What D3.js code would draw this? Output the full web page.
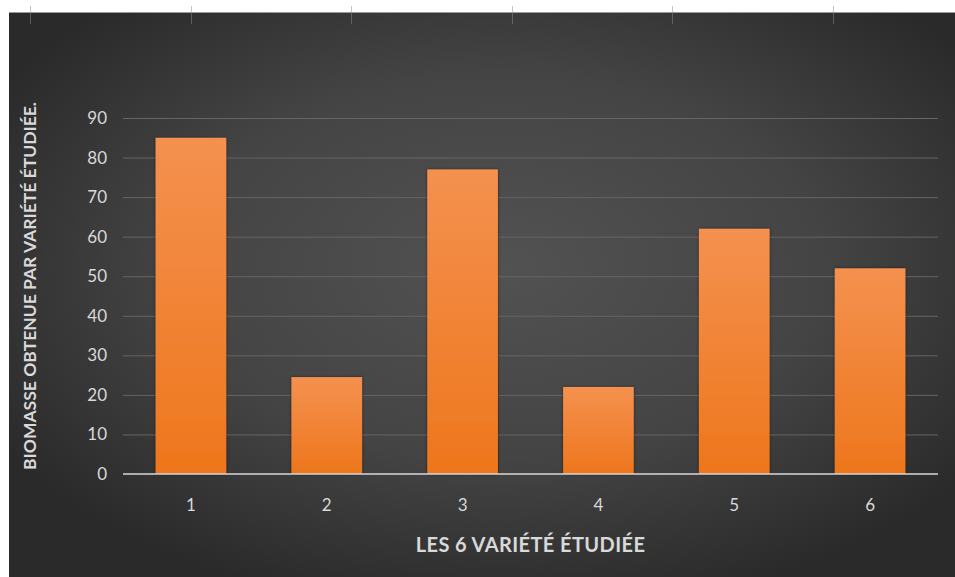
<!DOCTYPE html>
<html>
<head>
<meta charset="utf-8">
<script src="https://cdn.jsdelivr.net/npm/d3@7"></script>
<style>
  html, body { margin: 0; padding: 0; background: #ffffff; }
  svg { display: block; }
</style>
</head>
<body>
<svg id="chart" width="955" height="577"></svg>
<script>
const categories = ["1", "2", "3", "4", "5", "6"];
const values = [85, 24.5, 77, 22, 62, 52];
const yTicks = [0, 10, 20, 30, 40, 50, 60, 70, 80, 90];
const xTitle = "LES 6 VARIÉTÉ ÉTUDIÉE";
const yTitle = "BIOMASSE OBTENUE PAR VARIÉTÉ ÉTUDIÉE.";
const topMarks = [0, 1, 2, 3, 4, 5];

const W = 955, H = 577;
const svg = d3.select("#chart");
const defs = svg.append("defs");

const bg = defs.append("radialGradient").attr("id", "bg")
  .attr("cx", "52%").attr("cy", "45%").attr("r", "62%");
bg.append("stop").attr("offset", "0%").attr("stop-color", "#525252");
bg.append("stop").attr("offset", "55%").attr("stop-color", "#444444");
bg.append("stop").attr("offset", "100%").attr("stop-color", "#2a2a2a");

const barG = defs.append("linearGradient").attr("id", "barg")
  .attr("x1", 0).attr("y1", 0).attr("x2", 0).attr("y2", 1);
barG.append("stop").attr("offset", "0%").attr("stop-color", "#f4914f");
barG.append("stop").attr("offset", "100%").attr("stop-color", "#ee761c");

const sh = defs.append("filter").attr("id", "shadow")
  .attr("x", "-20%").attr("y", "-20%").attr("width", "140%").attr("height", "140%");
sh.append("feDropShadow").attr("dx", 0).attr("dy", 0).attr("stdDeviation", 1.5)
  .attr("flood-color", "#000").attr("flood-opacity", 0.55);

// background panel
svg.append("rect").attr("x", 9).attr("y", 12).attr("width", W - 9).attr("height", H - 12)
  .attr("fill", "url(#bg)");
svg.append("line").attr("x1", 9).attr("x2", W).attr("y1", 12.5).attr("y2", 12.5)
  .attr("stroke", "#9a9a9a").attr("stroke-width", 1);

// faint marks at the top edge
const topX = d3.scaleLinear().domain([0, 5]).range([30, 833]);
svg.append("g").selectAll("line").data(topMarks).join("line")
  .attr("x1", d => Math.round(topX(d)) + 0.5).attr("x2", d => Math.round(topX(d)) + 0.5)
  .attr("y1", 6).attr("y2", 24)
  .attr("stroke", "#8a8a8a").attr("stroke-opacity", 0.5).attr("stroke-width", 1);

const m = { left: 123, right: 938, top: 118, bottom: 474 };
const x = d3.scaleBand().domain(categories).range([m.left, m.right]).paddingInner(0.48).paddingOuter(0.24);
const y = d3.scaleLinear().domain([0, 90]).range([m.bottom, m.top]);

// gridlines
svg.append("g")
  .attr("transform", `translate(${m.left},0)`)
  .call(d3.axisLeft(y).tickValues(yTicks.filter(t => t > 0)).tickSize(-(m.right - m.left)).tickFormat(""))
  .call(g => g.select(".domain").remove())
  .call(g => g.selectAll("line").attr("stroke", "#656565").attr("stroke-width", 1));

// y tick labels
svg.append("g")
  .attr("transform", `translate(${m.left},0)`)
  .call(d3.axisLeft(y).tickValues(yTicks).tickSize(0).tickPadding(16))
  .call(g => g.select(".domain").remove())
  .call(g => g.selectAll("text").attr("fill", "#d9d9d9")
    .attr("font-family", "Lato, 'Open Sans', sans-serif").attr("font-size", 17));

// bars
svg.append("g").selectAll("rect").data(values).join("rect")
  .attr("x", (d, i) => x(categories[i]))
  .attr("width", x.bandwidth())
  .attr("y", d => y(d))
  .attr("height", d => y(0) - y(d))
  .attr("fill", "url(#barg)")
  .attr("filter", "url(#shadow)");

// x axis baseline + labels
svg.append("g")
  .attr("transform", `translate(0,${m.bottom})`)
  .call(d3.axisBottom(x).tickSize(0).tickPadding(25))
  .call(g => g.select(".domain").attr("stroke", "#d9d9d9").attr("stroke-width", 1.5)
    .attr("d", `M${m.left},0H${m.right}`))
  .call(g => g.selectAll("text").attr("fill", "#d9d9d9")
    .attr("font-family", "Lato, 'Open Sans', sans-serif").attr("font-size", 17));

// axis titles
svg.append("text")
  .attr("x", (m.left + m.right) / 2).attr("y", 552)
  .attr("text-anchor", "middle")
  .attr("fill", "#d9d9d9").attr("font-weight", "bold")
  .attr("font-family", "Lato, 'Open Sans', sans-serif").attr("font-size", 20)
  .attr("letter-spacing", 0.4)
  .text(xTitle);

svg.append("text")
  .attr("transform", `translate(36,${(m.top + m.bottom) / 2 - 10}) rotate(-90)`)
  .attr("text-anchor", "middle")
  .attr("fill", "#d9d9d9").attr("font-weight", "bold")
  .attr("font-family", "Lato, 'Open Sans', sans-serif").attr("font-size", 17.5)
  .text(yTitle);
</script>
</body>
</html>
